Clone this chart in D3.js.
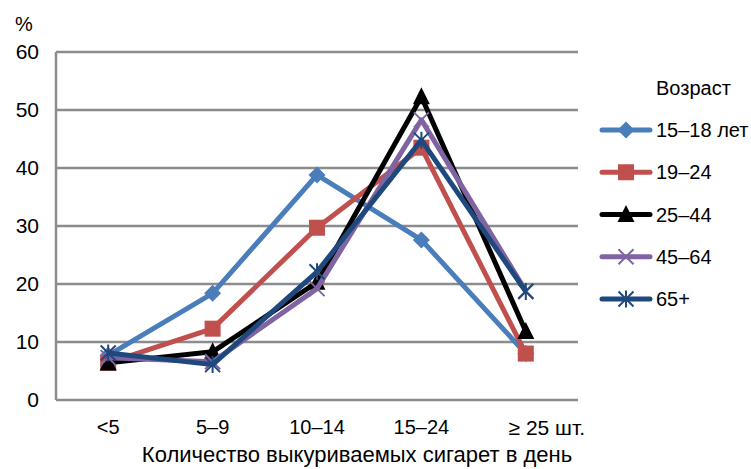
<!DOCTYPE html>
<html>
<head>
<meta charset="utf-8">
<script src="https://cdn.jsdelivr.net/npm/d3@7"></script>
<style>
  body { margin: 0; background: #fff; }
  svg { display: block; font-family: "Liberation Sans", Arial, sans-serif; }
</style>
</head>
<body>
<svg id="chart" width="751" height="469"></svg>
<script>
// Доля курящих по количеству выкуриваемых сигарет, по возрастным группам
const categories = ["<5", "5–9", "10–14", "15–24", "\u2265 25 шт."];
const seriesNames = ["15–18 лет", "19–24", "25–44", "45–64", "65+"];
const s15_18 = [7.7, 18.4, 38.8, 27.6, 8.0];
const s19_24 = [6.4, 12.3, 29.7, 43.5, 8.0];
const s25_44 = [6.4, 8.3, 20.3, 52.3, 11.8];
const s45_64 = [7.3, 6.6, 19.2, 48.3, 18.8];
const s65 = [8.1, 6.1, 22.1, 44.8, 18.7];
const yTicks = [0, 10, 20, 30, 40, 50, 60];

const colors = ["#4A7EBB", "#C0504D", "#000000", "#8064A2", "#1F497D"];
const markers = ["diamond", "square", "triangle", "x", "star"];
const series = [s15_18, s19_24, s25_44, s45_64, s65];

const svg = d3.select("#chart");
const plotL = 56, plotR = 578, plotT = 52, plotB = 400;

const x = d3.scaleBand().domain(categories).range([plotL, plotR]);
const y = d3.scaleLinear().domain([0, 60]).range([plotB, plotT]);
const cx = c => x(c) + x.bandwidth() / 2;

// gridlines
svg.append("g").selectAll("line").data(yTicks).join("line")
  .attr("x1", plotL).attr("x2", plotR)
  .attr("y1", d => y(d)).attr("y2", d => y(d))
  .attr("stroke", "#8c8c8c").attr("stroke-width", 2.5);

// left axis line
svg.append("line").attr("x1", plotL).attr("x2", plotL)
  .attr("y1", y(60)).attr("y2", y(0))
  .attr("stroke", "#8c8c8c").attr("stroke-width", 2.5);

// y tick labels
const yAxis = d3.axisLeft(y).tickValues(yTicks).tickSize(0).tickPadding(0).tickFormat(d3.format("d"));
const gy = svg.append("g").attr("transform", `translate(${plotL - 17},0)`).call(yAxis);
gy.select(".domain").remove();
gy.selectAll("text").attr("font-size", 21).attr("fill", "#000")
  .attr("font-family", "Liberation Sans, Arial, sans-serif");

// x tick labels
const xAxis = d3.axisBottom(x).tickSize(0).tickPadding(0);
const gx = svg.append("g").attr("transform", `translate(0,${plotB + 20})`).call(xAxis);
gx.select(".domain").remove();
gx.selectAll("text").attr("font-size", 20).attr("fill", "#000")
  .attr("font-family", "Liberation Sans, Arial, sans-serif");
gx.selectAll("text").filter(d => d === categories[4])
  .attr("dx", 21).attr("font-size", 21);

// titles
svg.append("text").attr("x", 24).attr("y", 31).attr("text-anchor", "middle")
  .attr("font-size", 20).text("%");
svg.append("text").attr("x", 357).attr("y", 462).attr("text-anchor", "middle")
  .attr("font-size", 22).text("Количество выкуриваемых сигарет в день");

function drawMarker(g, type, color) {
  const s = 7.5;
  if (type === "diamond") {
    g.append("path").attr("d", `M0,${-s - 1}L${s + 1},0L0,${s + 1}L${-s - 1},0Z`).attr("fill", color);
  } else if (type === "square") {
    g.append("rect").attr("x", -s - 0.5).attr("y", -s - 0.5).attr("width", 2 * s + 1).attr("height", 2 * s + 1).attr("fill", color);
  } else if (type === "triangle") {
    g.append("path").attr("d", `M0,${-s - 2}L${s + 1},${s}L${-s - 1},${s}Z`).attr("fill", color);
  } else if (type === "x") {
    g.append("path").attr("d", `M${-s},${-s}L${s},${s}M${-s},${s}L${s},${-s}`)
      .attr("stroke", color).attr("stroke-width", 2);
  } else if (type === "star") {
    g.append("path").attr("d", `M${-s},${-s}L${s},${s}M${-s},${s}L${s},${-s}M0,${-s - 1}L0,${s + 1}`)
      .attr("stroke", color).attr("stroke-width", 2);
  }
}

const line = d3.line().x((d, i) => cx(categories[i])).y(d => y(d));

series.forEach((vals, k) => {
  const g = svg.append("g");
  g.append("path").datum(vals).attr("d", line)
    .attr("fill", "none").attr("stroke", colors[k]).attr("stroke-width", 5)
    .attr("stroke-linejoin", "round");
  vals.forEach((v, i) => {
    const m = g.append("g").attr("transform", `translate(${cx(categories[i])},${y(v)})`);
    drawMarker(m, markers[k], colors[k]);
  });
});

// legend
const lg = svg.append("g");
lg.append("text").attr("x", 656).attr("y", 95).attr("font-size", 20).text("Возраст");
const ly = d3.scaleLinear().domain([0, 4]).range([130, 299]);
seriesNames.forEach((name, k) => {
  const yy = ly(k);
  lg.append("line").attr("x1", 602).attr("x2", 650).attr("y1", yy).attr("y2", yy)
    .attr("stroke", colors[k]).attr("stroke-width", 5).attr("stroke-linecap", "round");
  const m = lg.append("g").attr("transform", `translate(626,${yy})`);
  drawMarker(m, markers[k], colors[k]);
  lg.append("text").attr("x", 656).attr("y", yy + 7).attr("font-size", 20).text(name);
});
</script>
</body>
</html>
